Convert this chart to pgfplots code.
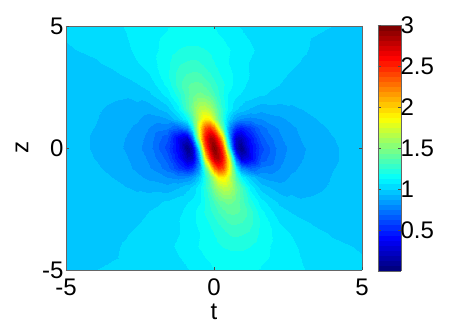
\documentclass[border=0pt]{standalone}
\usepackage{fontspec}
\setmainfont{Liberation Sans}
\usepackage{pgfplots}
\pgfplotsset{compat=1.18}
\begin{document}
\begin{tikzpicture}[x=1pt,y=1pt]
\useasboundingbox (0,0) rectangle (463,327);
\begin{axis}[
  at={(66pt,57pt)},anchor=south west,
  scale only axis,width=296pt,height=244pt,
  xmin=-5,xmax=5,ymin=-5,ymax=5,
  xtick={-5,0,5},ytick={-5,0,5},
  view={0}{90},
  axis line style={draw=black!60,line width=0.7pt},
  tick style={draw=black!70,line width=0.4pt},
  tick align=inside,major tick length=3pt,
  /pgf/number format/assume math mode=true,
  tick label style={font=\fontsize{24}{24}\selectfont},
  xticklabel style={yshift=-5pt},
  yticklabel style={xshift=1pt},
  xlabel={t},ylabel={z},
  label style={font=\fontsize{24}{24}\selectfont},
  xlabel style={at={(axis description cs:0.5,0)},anchor=center,yshift=-42pt},
  ylabel style={at={(axis description cs:0,0.5)},anchor=center,yshift=44pt},
  colormap/jet,
  point meta min=0,point meta max=3,
  colorbar,
  colorbar style={
    at={(1.054,-0.004)},anchor=south west,
    width=23pt,height=246pt,
    ytick={0.5,1,1.5,2,2.5,3},
    yticklabels={0.5,1,1.5,2,2.5,3},
    ymin=0,ymax=3,
    tick align=inside,major tick length=3pt,
    axis line style={draw=black!60,line width=0.5pt},
    tick label style={font=\fontsize{24}{24}\selectfont},
    yticklabel style={xshift=-4pt},
  },
]
\addplot3[contour filled={number=48},mesh/cols=29,mesh/ordering=x varies] coordinates {
(-5,-5,0.99)(-4,-5,1.0)(-3.5,-5,1.005)(-3,-5,1.01)(-2.6,-5,1.02)(-2.2,-5,1.03)(-1.6,-5,1.04)(-1.2,-5,1.05)(-0.9,-5,1.06)(-0.75,-5,1.065)(-0.6,-5,1.075)(-0.45,-5,1.085)(-0.3,-5,1.1)(-0.15,-5,1.11)(0,-5,1.125)(0.15,-5,1.13)(0.3,-5,1.13)(0.45,-5,1.135)(0.6,-5,1.14)(0.75,-5,1.14)(0.9,-5,1.14)(1.2,-5,1.13)(1.6,-5,1.12)(2.2,-5,1.095)(2.6,-5,1.08)(3,-5,1.065)(3.5,-5,1.05)(4,-5,1.03)(5,-5,1.01)

(-5,-4,0.98)(-4,-4,0.985)(-3.5,-4,0.99)(-3,-4,1.005)(-2.6,-4,1.02)(-2.2,-4,1.03)(-1.6,-4,1.05)(-1.2,-4,1.07)(-0.9,-4,1.09)(-0.75,-4,1.105)(-0.6,-4,1.12)(-0.45,-4,1.135)(-0.3,-4,1.15)(-0.15,-4,1.16)(0,-4,1.17)(0.15,-4,1.18)(0.3,-4,1.19)(0.45,-4,1.195)(0.6,-4,1.2)(0.75,-4,1.2)(0.9,-4,1.2)(1.2,-4,1.19)(1.6,-4,1.15)(2.2,-4,1.1)(2.6,-4,1.075)(3,-4,1.05)(3.5,-4,1.03)(4,-4,1.01)(5,-4,0.995)

(-5,-3.5,0.98)(-4,-3.5,0.98)(-3.5,-3.5,0.985)(-3,-3.5,0.995)(-2.6,-3.5,1.01)(-2.2,-3.5,1.02)(-1.6,-3.5,1.04)(-1.2,-3.5,1.06)(-0.9,-3.5,1.08)(-0.75,-3.5,1.09)(-0.6,-3.5,1.11)(-0.45,-3.5,1.13)(-0.3,-3.5,1.15)(-0.15,-3.5,1.17)(0,-3.5,1.19)(0.15,-3.5,1.21)(0.3,-3.5,1.23)(0.45,-3.5,1.25)(0.6,-3.5,1.27)(0.75,-3.5,1.27)(0.9,-3.5,1.26)(1.2,-3.5,1.24)(1.6,-3.5,1.17)(2.2,-3.5,1.09)(2.6,-3.5,1.06)(3,-3.5,1.03)(3.5,-3.5,1.01)(4,-3.5,0.995)(5,-3.5,0.99)

(-5,-3,0.98)(-4,-3,0.975)(-3.5,-3,0.975)(-3,-3,0.98)(-2.6,-3,0.995)(-2.2,-3,1.01)(-1.6,-3,1.035)(-1.2,-3,1.06)(-0.9,-3,1.09)(-0.75,-3,1.11)(-0.6,-3,1.13)(-0.45,-3,1.15)(-0.3,-3,1.17)(-0.15,-3,1.2)(0,-3,1.23)(0.15,-3,1.26)(0.3,-3,1.29)(0.45,-3,1.32)(0.6,-3,1.33)(0.75,-3,1.33)(0.9,-3,1.32)(1.2,-3,1.27)(1.6,-3,1.17)(2.2,-3,1.06)(2.6,-3,1.03)(3,-3,1.005)(3.5,-3,0.985)(4,-3,0.98)(5,-3,0.985)

(-5,-2.6,0.98)(-4,-2.6,0.975)(-3.5,-2.6,0.97)(-3,-2.6,0.97)(-2.6,-2.6,0.985)(-2.2,-2.6,1.0)(-1.6,-2.6,1.025)(-1.2,-2.6,1.05)(-0.9,-2.6,1.075)(-0.75,-2.6,1.1)(-0.6,-2.6,1.13)(-0.45,-2.6,1.16)(-0.3,-2.6,1.2)(-0.15,-2.6,1.24)(0,-2.6,1.28)(0.15,-2.6,1.32)(0.3,-2.6,1.36)(0.45,-2.6,1.39)(0.6,-2.6,1.4)(0.75,-2.6,1.39)(0.9,-2.6,1.37)(1.2,-2.6,1.28)(1.6,-2.6,1.14)(2.2,-2.6,1.02)(2.6,-2.6,0.995)(3,-2.6,0.975)(3.5,-2.6,0.965)(4,-2.6,0.965)(5,-2.6,0.98)

(-5,-2.2,0.98)(-4,-2.2,0.97)(-3.5,-2.2,0.965)(-3,-2.2,0.96)(-2.6,-2.2,0.965)(-2.2,-2.2,0.98)(-1.6,-2.2,1.01)(-1.2,-2.2,1.04)(-0.9,-2.2,1.06)(-0.75,-2.2,1.08)(-0.6,-2.2,1.1)(-0.45,-2.2,1.13)(-0.3,-2.2,1.19)(-0.15,-2.2,1.26)(0,-2.2,1.32)(0.15,-2.2,1.39)(0.3,-2.2,1.43)(0.45,-2.2,1.45)(0.6,-2.2,1.44)(0.75,-2.2,1.41)(0.9,-2.2,1.35)(1.2,-2.2,1.22)(1.6,-2.2,1.09)(2.2,-2.2,0.99)(2.6,-2.2,0.96)(3,-2.2,0.945)(3.5,-2.2,0.95)(4,-2.2,0.96)(5,-2.2,0.975)

(-5,-1.6,0.975)(-4,-1.6,0.96)(-3.5,-1.6,0.95)(-3,-1.6,0.94)(-2.6,-1.6,0.925)(-2.2,-1.6,0.91)(-1.6,-1.6,0.895)(-1.2,-1.6,0.93)(-0.9,-1.6,0.98)(-0.75,-1.6,1.01)(-0.6,-1.6,1.06)(-0.45,-1.6,1.14)(-0.3,-1.6,1.24)(-0.15,-1.6,1.37)(0,-1.6,1.51)(0.15,-1.6,1.62)(0.3,-1.6,1.69)(0.45,-1.6,1.68)(0.6,-1.6,1.59)(0.75,-1.6,1.46)(0.9,-1.6,1.33)(1.2,-1.6,1.1)(1.6,-1.6,0.97)(2.2,-1.6,0.9)(2.6,-1.6,0.915)(3,-1.6,0.92)(3.5,-1.6,0.93)(4,-1.6,0.945)(5,-1.6,0.97)

(-5,-1.2,0.97)(-4,-1.2,0.955)(-3.5,-1.2,0.94)(-3,-1.2,0.915)(-2.6,-1.2,0.89)(-2.2,-1.2,0.86)(-1.6,-1.2,0.81)(-1.2,-1.2,0.78)(-0.9,-1.2,0.8)(-0.75,-1.2,0.85)(-0.6,-1.2,0.93)(-0.45,-1.2,1.05)(-0.3,-1.2,1.23)(-0.15,-1.2,1.44)(0,-1.2,1.68)(0.15,-1.2,1.88)(0.3,-1.2,1.92)(0.45,-1.2,1.8)(0.6,-1.2,1.56)(0.75,-1.2,1.33)(0.9,-1.2,1.13)(1.2,-1.2,0.98)(1.6,-1.2,0.87)(2.2,-1.2,0.845)(2.6,-1.2,0.885)(3,-1.2,0.905)(3.5,-1.2,0.92)(4,-1.2,0.94)(5,-1.2,0.97)

(-5,-0.8,0.965)(-4,-0.8,0.945)(-3.5,-0.8,0.925)(-3,-0.8,0.895)(-2.6,-0.8,0.86)(-2.2,-0.8,0.82)(-1.6,-0.8,0.72)(-1.2,-0.8,0.57)(-0.9,-0.8,0.47)(-0.75,-0.8,0.53)(-0.6,-0.8,0.7)(-0.45,-0.8,0.98)(-0.3,-0.8,1.37)(-0.15,-0.8,1.85)(0,-0.8,2.27)(0.15,-0.8,2.48)(0.3,-0.8,2.38)(0.45,-0.8,2.03)(0.6,-0.8,1.55)(0.75,-0.8,1.12)(0.9,-0.8,0.8)(1.2,-0.8,0.68)(1.6,-0.8,0.76)(2.2,-0.8,0.81)(2.6,-0.8,0.86)(3,-0.8,0.89)(3.5,-0.8,0.91)(4,-0.8,0.935)(5,-0.8,0.965)

(-5,-0.4,0.965)(-4,-0.4,0.935)(-3.5,-0.4,0.915)(-3,-0.4,0.885)(-2.6,-0.4,0.845)(-2.2,-0.4,0.8)(-1.6,-0.4,0.66)(-1.2,-0.4,0.44)(-0.9,-0.4,0.2)(-0.75,-0.4,0.23)(-0.6,-0.4,0.55)(-0.45,-0.4,1.15)(-0.3,-0.4,1.9)(-0.15,-0.4,2.5)(0,-0.4,2.8)(0.15,-0.4,2.83)(0.3,-0.4,2.55)(0.45,-0.4,2.05)(0.6,-0.4,1.3)(0.75,-0.4,0.65)(0.9,-0.4,0.25)(1.2,-0.4,0.37)(1.6,-0.4,0.64)(2.2,-0.4,0.79)(2.6,-0.4,0.84)(3,-0.4,0.875)(3.5,-0.4,0.905)(4,-0.4,0.93)(5,-0.4,0.965)

(-5,0,0.965)(-4,0,0.93)(-3.5,0,0.905)(-3,0,0.87)(-2.6,0,0.83)(-2.2,0,0.78)(-1.6,0,0.6)(-1.2,0,0.38)(-0.9,0,0.05)(-0.75,0,0.22)(-0.6,0,0.72)(-0.45,0,1.55)(-0.3,0,2.35)(-0.15,0,2.8)(0,0,2.97)(0.15,0,2.8)(0.3,0,2.35)(0.45,0,1.55)(0.6,0,0.72)(0.75,0,0.22)(0.9,0,0.05)(1.2,0,0.38)(1.6,0,0.6)(2.2,0,0.78)(2.6,0,0.83)(3,0,0.87)(3.5,0,0.905)(4,0,0.93)(5,0,0.965)

(-5,0.4,0.965)(-4,0.4,0.93)(-3.5,0.4,0.905)(-3,0.4,0.875)(-2.6,0.4,0.84)(-2.2,0.4,0.79)(-1.6,0.4,0.64)(-1.2,0.4,0.37)(-0.9,0.4,0.25)(-0.75,0.4,0.65)(-0.6,0.4,1.3)(-0.45,0.4,2.05)(-0.3,0.4,2.55)(-0.15,0.4,2.83)(0,0.4,2.8)(0.15,0.4,2.5)(0.3,0.4,1.9)(0.45,0.4,1.15)(0.6,0.4,0.55)(0.75,0.4,0.23)(0.9,0.4,0.2)(1.2,0.4,0.44)(1.6,0.4,0.66)(2.2,0.4,0.8)(2.6,0.4,0.845)(3,0.4,0.885)(3.5,0.4,0.915)(4,0.4,0.935)(5,0.4,0.965)

(-5,0.8,0.965)(-4,0.8,0.935)(-3.5,0.8,0.91)(-3,0.8,0.89)(-2.6,0.8,0.86)(-2.2,0.8,0.81)(-1.6,0.8,0.76)(-1.2,0.8,0.68)(-0.9,0.8,0.8)(-0.75,0.8,1.12)(-0.6,0.8,1.55)(-0.45,0.8,2.03)(-0.3,0.8,2.38)(-0.15,0.8,2.48)(0,0.8,2.27)(0.15,0.8,1.85)(0.3,0.8,1.37)(0.45,0.8,0.98)(0.6,0.8,0.7)(0.75,0.8,0.53)(0.9,0.8,0.47)(1.2,0.8,0.57)(1.6,0.8,0.72)(2.2,0.8,0.82)(2.6,0.8,0.86)(3,0.8,0.895)(3.5,0.8,0.925)(4,0.8,0.945)(5,0.8,0.965)

(-5,1.2,0.97)(-4,1.2,0.94)(-3.5,1.2,0.92)(-3,1.2,0.905)(-2.6,1.2,0.885)(-2.2,1.2,0.845)(-1.6,1.2,0.87)(-1.2,1.2,0.98)(-0.9,1.2,1.13)(-0.75,1.2,1.33)(-0.6,1.2,1.56)(-0.45,1.2,1.8)(-0.3,1.2,1.92)(-0.15,1.2,1.88)(0,1.2,1.68)(0.15,1.2,1.44)(0.3,1.2,1.23)(0.45,1.2,1.05)(0.6,1.2,0.93)(0.75,1.2,0.85)(0.9,1.2,0.8)(1.2,1.2,0.78)(1.6,1.2,0.81)(2.2,1.2,0.86)(2.6,1.2,0.89)(3,1.2,0.915)(3.5,1.2,0.94)(4,1.2,0.955)(5,1.2,0.97)

(-5,1.6,0.97)(-4,1.6,0.945)(-3.5,1.6,0.93)(-3,1.6,0.92)(-2.6,1.6,0.915)(-2.2,1.6,0.9)(-1.6,1.6,0.97)(-1.2,1.6,1.1)(-0.9,1.6,1.33)(-0.75,1.6,1.46)(-0.6,1.6,1.59)(-0.45,1.6,1.68)(-0.3,1.6,1.69)(-0.15,1.6,1.62)(0,1.6,1.51)(0.15,1.6,1.37)(0.3,1.6,1.24)(0.45,1.6,1.14)(0.6,1.6,1.06)(0.75,1.6,1.01)(0.9,1.6,0.98)(1.2,1.6,0.93)(1.6,1.6,0.895)(2.2,1.6,0.91)(2.6,1.6,0.925)(3,1.6,0.94)(3.5,1.6,0.95)(4,1.6,0.96)(5,1.6,0.975)

(-5,2.2,0.975)(-4,2.2,0.96)(-3.5,2.2,0.95)(-3,2.2,0.945)(-2.6,2.2,0.96)(-2.2,2.2,0.99)(-1.6,2.2,1.09)(-1.2,2.2,1.22)(-0.9,2.2,1.35)(-0.75,2.2,1.41)(-0.6,2.2,1.44)(-0.45,2.2,1.45)(-0.3,2.2,1.43)(-0.15,2.2,1.39)(0,2.2,1.32)(0.15,2.2,1.26)(0.3,2.2,1.19)(0.45,2.2,1.13)(0.6,2.2,1.1)(0.75,2.2,1.08)(0.9,2.2,1.06)(1.2,2.2,1.04)(1.6,2.2,1.01)(2.2,2.2,0.98)(2.6,2.2,0.965)(3,2.2,0.96)(3.5,2.2,0.965)(4,2.2,0.97)(5,2.2,0.98)

(-5,2.6,0.98)(-4,2.6,0.965)(-3.5,2.6,0.965)(-3,2.6,0.975)(-2.6,2.6,0.995)(-2.2,2.6,1.02)(-1.6,2.6,1.14)(-1.2,2.6,1.28)(-0.9,2.6,1.37)(-0.75,2.6,1.39)(-0.6,2.6,1.4)(-0.45,2.6,1.39)(-0.3,2.6,1.36)(-0.15,2.6,1.32)(0,2.6,1.28)(0.15,2.6,1.24)(0.3,2.6,1.2)(0.45,2.6,1.16)(0.6,2.6,1.13)(0.75,2.6,1.1)(0.9,2.6,1.075)(1.2,2.6,1.05)(1.6,2.6,1.025)(2.2,2.6,1.0)(2.6,2.6,0.985)(3,2.6,0.97)(3.5,2.6,0.97)(4,2.6,0.975)(5,2.6,0.98)

(-5,3,0.985)(-4,3,0.98)(-3.5,3,0.985)(-3,3,1.005)(-2.6,3,1.03)(-2.2,3,1.06)(-1.6,3,1.17)(-1.2,3,1.27)(-0.9,3,1.32)(-0.75,3,1.33)(-0.6,3,1.33)(-0.45,3,1.32)(-0.3,3,1.29)(-0.15,3,1.26)(0,3,1.23)(0.15,3,1.2)(0.3,3,1.17)(0.45,3,1.15)(0.6,3,1.13)(0.75,3,1.11)(0.9,3,1.09)(1.2,3,1.06)(1.6,3,1.035)(2.2,3,1.01)(2.6,3,0.995)(3,3,0.98)(3.5,3,0.975)(4,3,0.975)(5,3,0.98)

(-5,3.5,0.99)(-4,3.5,0.995)(-3.5,3.5,1.01)(-3,3.5,1.03)(-2.6,3.5,1.06)(-2.2,3.5,1.09)(-1.6,3.5,1.17)(-1.2,3.5,1.24)(-0.9,3.5,1.26)(-0.75,3.5,1.27)(-0.6,3.5,1.27)(-0.45,3.5,1.25)(-0.3,3.5,1.23)(-0.15,3.5,1.21)(0,3.5,1.19)(0.15,3.5,1.17)(0.3,3.5,1.15)(0.45,3.5,1.13)(0.6,3.5,1.11)(0.75,3.5,1.09)(0.9,3.5,1.08)(1.2,3.5,1.06)(1.6,3.5,1.04)(2.2,3.5,1.02)(2.6,3.5,1.01)(3,3.5,0.995)(3.5,3.5,0.985)(4,3.5,0.98)(5,3.5,0.98)

(-5,4,0.995)(-4,4,1.01)(-3.5,4,1.03)(-3,4,1.05)(-2.6,4,1.075)(-2.2,4,1.1)(-1.6,4,1.15)(-1.2,4,1.19)(-0.9,4,1.2)(-0.75,4,1.2)(-0.6,4,1.2)(-0.45,4,1.195)(-0.3,4,1.19)(-0.15,4,1.18)(0,4,1.17)(0.15,4,1.16)(0.3,4,1.15)(0.45,4,1.135)(0.6,4,1.12)(0.75,4,1.105)(0.9,4,1.09)(1.2,4,1.07)(1.6,4,1.05)(2.2,4,1.03)(2.6,4,1.02)(3,4,1.005)(3.5,4,0.99)(4,4,0.985)(5,4,0.98)

(-5,5,1.01)(-4,5,1.03)(-3.5,5,1.05)(-3,5,1.065)(-2.6,5,1.08)(-2.2,5,1.095)(-1.6,5,1.12)(-1.2,5,1.13)(-0.9,5,1.14)(-0.75,5,1.14)(-0.6,5,1.14)(-0.45,5,1.135)(-0.3,5,1.13)(-0.15,5,1.13)(0,5,1.125)(0.15,5,1.11)(0.3,5,1.1)(0.45,5,1.085)(0.6,5,1.075)(0.75,5,1.065)(0.9,5,1.06)(1.2,5,1.05)(1.6,5,1.04)(2.2,5,1.03)(2.6,5,1.02)(3,5,1.01)(3.5,5,1.005)(4,5,1.0)(5,5,0.99)
};
\end{axis}
\end{tikzpicture}
\end{document}
